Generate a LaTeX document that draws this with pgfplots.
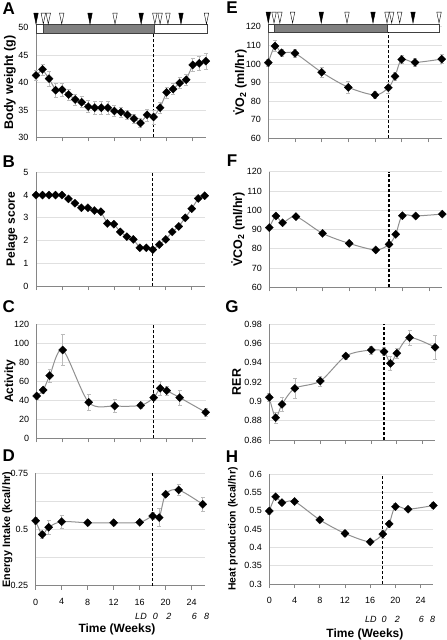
\documentclass[border=0pt]{standalone}
\usepackage{fontspec}
\setmainfont{Liberation Sans}
\usepackage{pgfplots}
\pgfplotsset{compat=1.18}
\definecolor{axgray}{HTML}{868686}
\definecolor{gridgray}{HTML}{E0E0E0}
\definecolor{linegray}{HTML}{909090}
\definecolor{bargray}{HTML}{808080}
\definecolor{errgray}{HTML}{BBBBBB}
\pgfplotsset{
  panel/.style={scale only axis, clip=false,
    axis x line*=bottom, axis y line*=left,
    axis line style={axgray, line width=0.7pt},
    xmin=0, xmax=26, xtick={0,4,...,24}, xticklabels={},
    tick align=outside, major tick length=4pt, minor tick length=0pt,
    xtick style={axgray, line width=0.7pt},
    ytick style={draw=none},
    ymajorgrids, major grid style={gridgray, line width=0.6pt},
    minor grid style={gridgray, line width=0.6pt},
    tick label style={font=\fontsize{9}{10}\selectfont},
    /pgf/number format/assume math mode=true,
    scaled y ticks=false, yticklabel style={/pgf/number format/fixed},
  },
  series/.style={linegray, line width=1pt, mark=square*, mark size=2.9pt,
    mark options={rotate=45, fill=black, draw=black, solid, line width=0.2pt},
    /pgfplots/error bars/y dir=both, /pgfplots/error bars/y explicit,
    /pgfplots/error bars/error bar style={errgray, line width=0.6pt},
    /pgfplots/error bars/error mark options={errgray, rotate=90, mark size=2pt, line width=0.6pt}},
  ylab/.style 2 args={ylabel style={at={(axis description cs:#1,0.5)}, anchor=center, font=\fontsize{#2}{#2}\selectfont\bfseries}},
  vdash/.style={black, line width=1.3pt, dash pattern=on 3pt off 2pt, mark=none},
  bottomx/.style 2 args={xticklabels={0,4,8,12,16,20,24}, xticklabel style={yshift=-5.5pt},
    xlabel={Time (Weeks)}, xlabel style={at={(axis description cs:#1,0)}, anchor=center, yshift=-#2, font=\fontsize{12}{12}\selectfont\bfseries}},
  fulltri/.style={only marks, mark=triangle*, mark size=2.6pt, mark options={rotate=180, yscale=2.8, fill=black, draw=black, line width=0.4pt}},
  opentri/.style={only marks, mark=triangle*, mark size=2.6pt, mark options={rotate=180, yscale=2.8, fill=white, draw=black, line width=0.4pt}},
}
\begin{document}
\begin{tikzpicture}
\useasboundingbox (0,0) rectangle (447pt,-640pt);
\tikzset{plab/.style={font=\fontsize{17}{17}\selectfont\bfseries, inner sep=0pt}}
\node[plab] at (8.8pt,-8.3pt) {A};
\node[plab] at (8.8pt,-161.5pt) {B};
\node[plab] at (8.8pt,-306.5pt) {C};
\node[plab] at (8.8pt,-455.5pt) {D};
\node[plab] at (232pt,-8pt) {E};
\node[plab] at (232pt,-160.5pt) {F};
\node[plab] at (232pt,-306.5pt) {G};
\node[plab] at (232pt,-456.5pt) {H};

% ---------------- A
\begin{axis}[panel, at={(36pt,-137.3pt)}, anchor=south west, width=169.8pt, height=109.6pt,
  ymin=30, ymax=50, ytick={30,35,...,50}, ylabel={Body weight (g)}, ylab={-0.153}{12.5}]
\addplot[fill=white, draw=black!75, line width=0.5pt] coordinates {(0,49) (26.2,49) (26.2,50.7) (0,50.7)} -- cycle;
\addplot[fill=bargray, draw=black!75, line width=0.5pt] coordinates {(1.1,49) (18.1,49) (18.1,50.7) (1.1,50.7)} -- cycle;
\addplot[fulltri] coordinates {(0,52) (8.27,52) (16.1,52) (22.2,52)};
\addplot[opentri] coordinates {(1.12,52) (1.88,52) (3.94,52) (12.1,52) (18.2,52) (19.0,52) (20.2,52) (26.1,52)};
\addplot[vdash] coordinates {(18,30) (18,49)};
\addplot[series] table[x=x, y=y, y error=e, row sep=\\] {
x y e\\
0 41.3 0.9\\ 1 42.4 1.0\\ 2 40.7 1.4\\ 3 38.6 1.3\\ 4 38.7 1.2\\ 5 37.8 1.0\\ 6 36.9 1.0\\
7 36.4 1.0\\ 8 35.6 1.1\\ 9 35.4 1.2\\ 10 35.4 1.2\\ 11 35.4 1.2\\ 12 34.8 1.0\\ 13 34.6 0.9\\
14 34.1 0.8\\ 15 33.4 0.8\\ 16 32.6 0.8\\ 17 34.1 1.1\\ 18 33.7 1.3\\ 19 35.4 1.0\\ 20 38.2 1.0\\
21 38.8 1.0\\ 22 39.9 1.0\\ 23 40.5 1.0\\ 24 43.2 1.2\\ 25 43.5 1.2\\ 26 43.9 1.4\\
};
\end{axis}

% ---------------- B
\begin{axis}[panel, at={(36pt,-286pt)}, anchor=south west, width=168.7pt, height=113.7pt,
  ymin=0, ymax=5, ytick={0,1,...,5}, ylabel={Pelage score}, ylab={-0.144}{12}]
\addplot[vdash] coordinates {(18,0) (18,5)};
\addplot[series] table[x=x, y=y, row sep=\\] {
x y\\
0 4.0\\ 1 4.0\\ 2 4.0\\ 3 4.0\\ 4 4.0\\ 5 3.83\\ 6 3.64\\ 7 3.44\\ 8 3.44\\ 9 3.32\\
10 3.27\\ 11 2.75\\ 12 2.72\\ 13 2.38\\ 14 2.17\\ 15 2.05\\ 16 1.68\\ 17 1.68\\ 18 1.60\\
19 1.82\\ 20 2.05\\ 21 2.38\\ 22 2.62\\ 23 3.00\\ 24 3.40\\ 25 3.85\\ 26 3.97\\
};
\end{axis}

% ---------------- C
\begin{axis}[panel, at={(36.7pt,-438.3pt)}, anchor=south west, width=169pt, height=114.3pt,
  ymin=0, ymax=120, ytick={0,20,...,120}, ylabel={Activity}, ylab={-0.158}{12}]
\addplot[vdash] coordinates {(18,0) (18,120)};
\addplot[series, smooth] table[x=x, y=y, y error=e, row sep=\\] {
x y e\\
0 44.4 3\\ 1 50.7 3\\ 2 65.8 7\\ 4 92.7 16.5\\ 8 37.8 8.5\\ 12 33.9 7\\ 16 34.6 3\\
18 42.7 3\\ 19 52.5 7\\ 20 50.0 5\\ 22 42.7 8\\ 26 27.3 4\\
};
\end{axis}

% ---------------- D
\begin{axis}[panel, at={(35.7pt,-585.7pt)}, anchor=south west, width=169pt, height=112.4pt,
  ymin=0.25, ymax=0.75, ytick={0.25,0.5,0.75}, minor ytick={0.375,0.625}, yminorgrids,
  ylabel={Energy Intake (kcal/hr)}, ylab={-0.167}{10.8}, bottomx={0.481}{43.3pt}]
\addplot[vdash] coordinates {(18,0.25) (18,0.75)};
\addplot[series, smooth] table[x=x, y=y, y error=e, row sep=\\] {
x y e\\
0 0.539 0.015\\ 1 0.478 0.015\\ 2 0.510 0.03\\ 4 0.535 0.03\\ 8 0.530 0.01\\ 12 0.530 0.01\\
16 0.532 0.01\\ 18 0.560 0.015\\ 19 0.553 0.04\\ 20 0.657 0.01\\ 22 0.676 0.025\\ 25.7 0.612 0.03\\
};
\node[font=\fontsize{9}{10}\selectfont\itshape, yshift=-30.3pt] at (axis cs:16.2,0.25) {LD};
\node[font=\fontsize{9}{10}\selectfont\itshape, yshift=-30.3pt] at (axis cs:18.4,0.25) {0};
\node[font=\fontsize{9}{10}\selectfont\itshape, yshift=-30.3pt] at (axis cs:20.5,0.25) {2};
\node[font=\fontsize{9}{10}\selectfont\itshape, yshift=-30.3pt] at (axis cs:24.4,0.25) {6};
\node[font=\fontsize{9}{10}\selectfont\itshape, yshift=-30.3pt] at (axis cs:26.3,0.25) {8};
\end{axis}

% ---------------- E
\begin{axis}[panel, at={(268.3pt,-138.3pt)}, anchor=south west, width=173.4pt, height=111.6pt,
  ymin=60, ymax=120, ytick={60,70,...,120}, ylabel={\.{V}O\textsubscript{2} (ml/hr)}, ylab={-0.163}{12.5}]
\addplot[fill=white, draw=black!75, line width=0.5pt] coordinates {(0,117) (25.6,117) (25.6,121.5) (0,121.5)} -- cycle;
\addplot[fill=bargray, draw=black!75, line width=0.5pt] coordinates {(0.86,117) (17.9,117) (17.9,121.5) (0.86,121.5)} -- cycle;
\addplot[fulltri] coordinates {(0,125.9) (7.94,125.9) (15.7,125.9) (21.7,125.9)};
\addplot[opentri] coordinates {(0.86,125.9) (1.73,125.9) (3.64,125.9) (11.8,125.9) (17.8,125.9) (18.5,125.9) (19.7,125.9) (25.6,125.9)};
\addplot[vdash] coordinates {(18,60) (18,117)};
\addplot[series, smooth] table[x=x, y=y, y error=e, row sep=\\] {
x y e\\
0 100.7 2\\ 1 109.6 3\\ 2 106.0 2\\ 4 105.7 2\\ 8 95.5 2.5\\ 12 87.4 3\\ 16 83.3 2\\
18 87.2 3\\ 19 93.3 2\\ 20 102.4 2\\ 22 100.8 2\\ 26 102.6 2.5\\
};
\end{axis}

% ---------------- F
\begin{axis}[panel, at={(269.3pt,-287.3pt)}, anchor=south west, width=173pt, height=115.6pt,
  ymin=60, ymax=120, ytick={60,70,...,120}, ylabel={\.{V}CO\textsubscript{2} (ml/hr)}, ylab={-0.181}{12.5}]
\addplot[vdash] coordinates {(18,60) (18,120)};
\addplot[series, smooth] table[x=x, y=y, y error=e, row sep=\\] {
x y e\\
0 91.0 1\\ 1 97.0 1\\ 2 93.5 1\\ 4 96.7 1\\ 8 88.0 1\\ 12 82.8 1\\ 16 79.4 1\\
18 82.3 1\\ 19 87.5 1\\ 20 97.2 1\\ 22 97.0 1\\ 26 98.0 1\\
};
\end{axis}

% ---------------- G
\begin{axis}[panel, at={(269.3pt,-440pt)}, anchor=south west, width=165.75pt, height=116pt,
  ymin=0.86, ymax=0.98, ytick={0.86,0.88,0.9,0.92,0.94,0.96,0.98}, ylabel={RER}, ylab={-0.198}{12.5}]
\addplot[vdash] coordinates {(18,0.86) (18,0.98)};
\addplot[series, smooth] table[x=x, y=y, y error=e, row sep=\\] {
x y e\\
0 0.9041 0.004\\ 1 0.8831 0.006\\ 2 0.8969 0.007\\ 4 0.9134 0.010\\ 8 0.9210 0.005\\
12 0.9469 0.003\\ 16 0.9531 0.004\\ 18 0.9514 0.004\\ 19 0.9393 0.007\\ 20 0.9497 0.005\\
22 0.9659 0.008\\ 26 0.9559 0.012\\
};
\end{axis}

% ---------------- H
\begin{axis}[panel, at={(269.3pt,-584pt)}, anchor=south west, width=164pt, height=110pt,
  ymin=0.3, ymax=0.6, ytick={0.3,0.35,0.4,0.45,0.5,0.55,0.6},
  ylabel={Heat production (kcal/hr)}, ylab={-0.221}{10.4}, bottomx={0.583}{50.3pt}]
\addplot[vdash] coordinates {(18,0.3) (18,0.6)};
\addplot[series, smooth] table[x=x, y=y, y error=e, row sep=\\] {
x y e\\
0 0.499 0.008\\ 1 0.538 0.008\\ 2 0.522 0.006\\ 4 0.525 0.006\\ 8 0.475 0.008\\
12 0.438 0.008\\ 16 0.415 0.006\\ 18 0.436 0.010\\ 19 0.464 0.008\\ 20 0.511 0.008\\
22 0.504 0.006\\ 26 0.514 0.008\\
};
\node[font=\fontsize{9}{10}\selectfont\itshape, yshift=-35pt] at (axis cs:16.1,0.3) {LD};
\node[font=\fontsize{9}{10}\selectfont\itshape, yshift=-35pt] at (axis cs:18.2,0.3) {0};
\node[font=\fontsize{9}{10}\selectfont\itshape, yshift=-35pt] at (axis cs:20.3,0.3) {2};
\node[font=\fontsize{9}{10}\selectfont\itshape, yshift=-35pt] at (axis cs:24.1,0.3) {6};
\node[font=\fontsize{9}{10}\selectfont\itshape, yshift=-35pt] at (axis cs:25.9,0.3) {8};
\end{axis}
\end{tikzpicture}
\end{document}
